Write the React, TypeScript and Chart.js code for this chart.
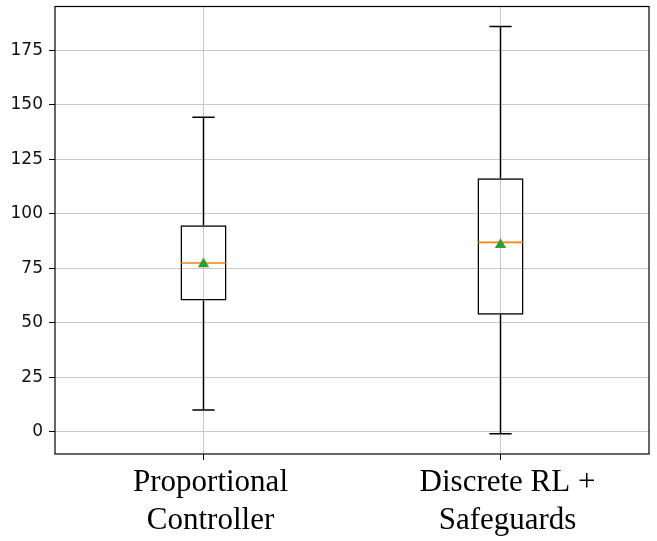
import React, { useEffect, useRef } from "react";
import { Chart, registerables } from "chart.js";

Chart.register(...registerables);

const CATEGORIES: string[][] = [
  ["Proportional", "Controller"],
  ["Discrete RL +", "Safeguards"],
];
const POSITIONS = [1, 2];
const WHISKER_LOW = [9.9, -1.0];
const Q1 = [60.2, 53.7];
const MEDIAN = [77.4, 86.9];
const MEAN = [77.0, 85.8];
const Q3 = [94.7, 116.3];
const WHISKER_HIGH = [144.3, 186.0];
const Y_TICKS = [0, 25, 50, 75, 100, 125, 150, 175];
const Y_MIN = -10.3;
const Y_MAX = 195.2;
const BOX_WIDTH = 0.15;

const framePlugin = {
  id: "frame",
  afterDatasetsDraw(chart: any) {
    const { ctx, chartArea } = chart;
    ctx.save();
    ctx.strokeStyle = "#000";
    ctx.lineWidth = 1.2;
    ctx.strokeRect(chartArea.left, chartArea.top, chartArea.right - chartArea.left, chartArea.bottom - chartArea.top);
    ctx.restore();
  },
};

export default function App() {
  const ref = useRef<HTMLCanvasElement | null>(null);

  useEffect(() => {
    if (!ref.current) return;
    const gap = { x: NaN, y: null as any };
    const whiskers: any[] = [];
    const caps: any[] = [];
    const medians: any[] = [];
    POSITIONS.forEach((p, i) => {
      whiskers.push({ x: p, y: Q3[i] }, { x: p, y: WHISKER_HIGH[i] }, { ...gap });
      whiskers.push({ x: p, y: Q1[i] }, { x: p, y: WHISKER_LOW[i] }, { ...gap });
      caps.push({ x: p - BOX_WIDTH / 4, y: WHISKER_HIGH[i] }, { x: p + BOX_WIDTH / 4, y: WHISKER_HIGH[i] }, { ...gap });
      caps.push({ x: p - BOX_WIDTH / 4, y: WHISKER_LOW[i] }, { x: p + BOX_WIDTH / 4, y: WHISKER_LOW[i] }, { ...gap });
      medians.push({ x: p - BOX_WIDTH / 2, y: MEDIAN[i] }, { x: p + BOX_WIDTH / 2, y: MEDIAN[i] }, { ...gap });
    });

    const chart = new Chart(ref.current, {
      type: "scatter",
      data: {
        datasets: [
          {
            type: "scatter",
            label: "mean",
            data: POSITIONS.map((p, i) => ({ x: p, y: MEAN[i] })),
            pointStyle: "triangle",
            pointRadius: 6.5,
            backgroundColor: "#2ca02c",
            borderColor: "#2ca02c",
            borderWidth: 0,
            order: 0,
          },
          {
            type: "line",
            label: "median",
            data: medians,
            borderColor: "#ff7f0e",
            borderWidth: 1.6,
            pointRadius: 0,
            spanGaps: false,
            fill: false,
            order: 1,
          },
          {
            type: "line",
            label: "caps",
            data: caps,
            borderColor: "#000",
            borderWidth: 1.5,
            pointRadius: 0,
            spanGaps: false,
            fill: false,
            order: 2,
          },
          {
            type: "line",
            label: "whiskers",
            data: whiskers,
            borderColor: "#000",
            borderWidth: 1.5,
            pointRadius: 0,
            spanGaps: false,
            fill: false,
            order: 3,
          },
          {
            type: "bar",
            label: "box",
            data: POSITIONS.map((p, i) => ({ x: p, y: [Q1[i], Q3[i]] })) as any,
            backgroundColor: "rgba(0,0,0,0)",
            borderColor: "#000",
            borderWidth: 1.5,
            borderSkipped: false,
            barPercentage: BOX_WIDTH + 0.005,
            categoryPercentage: 1,
            order: 4,
          } as any,
        ],
      },
      options: {
        animation: false,
        responsive: true,
        maintainAspectRatio: false,
        layout: { padding: { left: 0, top: 5, right: 8, bottom: 0 } },
        plugins: { legend: { display: false }, tooltip: { enabled: false } },
        scales: {
          x: {
            type: "linear",
            min: 0.5,
            max: 2.5,
            offset: false,
            afterBuildTicks: (scale: any) => {
              scale.ticks = POSITIONS.map((v) => ({ value: v }));
            },
            afterFit: (scale: any) => {
              scale.height = 87;
              scale.paddingLeft = 0;
              scale.paddingRight = 0;
            },
            grid: { offset: false, color: "#c8c8c8", lineWidth: 1, tickLength: 6, tickColor: "#000", drawTicks: true },
            border: { display: false },
            ticks: {
              autoSkip: false,
              maxRotation: 0,
              minRotation: 0,
              padding: 4,
              labelOffset: 7,
              color: "#000",
              font: { family: '"Liberation Serif", "Times New Roman", serif', size: 31, lineHeight: 1.22 },
              callback: (value: any) => {
                const idx = POSITIONS.indexOf(Number(value));
                return idx >= 0 ? CATEGORIES[idx] : "";
              },
            },
          },
          y: {
            type: "linear",
            min: Y_MIN,
            max: Y_MAX,
            afterBuildTicks: (scale: any) => {
              scale.ticks = Y_TICKS.map((v) => ({ value: v }));
            },
            afterFit: (scale: any) => {
              scale.width = 55;
              scale.paddingTop = 0;
              scale.paddingBottom = 0;
            },
            grid: { color: "#c8c8c8", lineWidth: 1, tickLength: 6, tickColor: "#000", drawTicks: true },
            border: { display: false },
            ticks: {
              padding: 6,
              color: "#111",
              font: { family: '"DejaVu Sans", sans-serif', size: 17 },
              callback: (value: any) => String(value),
            },
          },
        },
      },
      plugins: [framePlugin],
    } as any);
    return () => chart.destroy();
  }, []);

  return (
    <div style={{ position: "absolute", left: 0, top: 0, width: 657, height: 541 }}>
      <canvas ref={ref} />
    </div>
  );
}
